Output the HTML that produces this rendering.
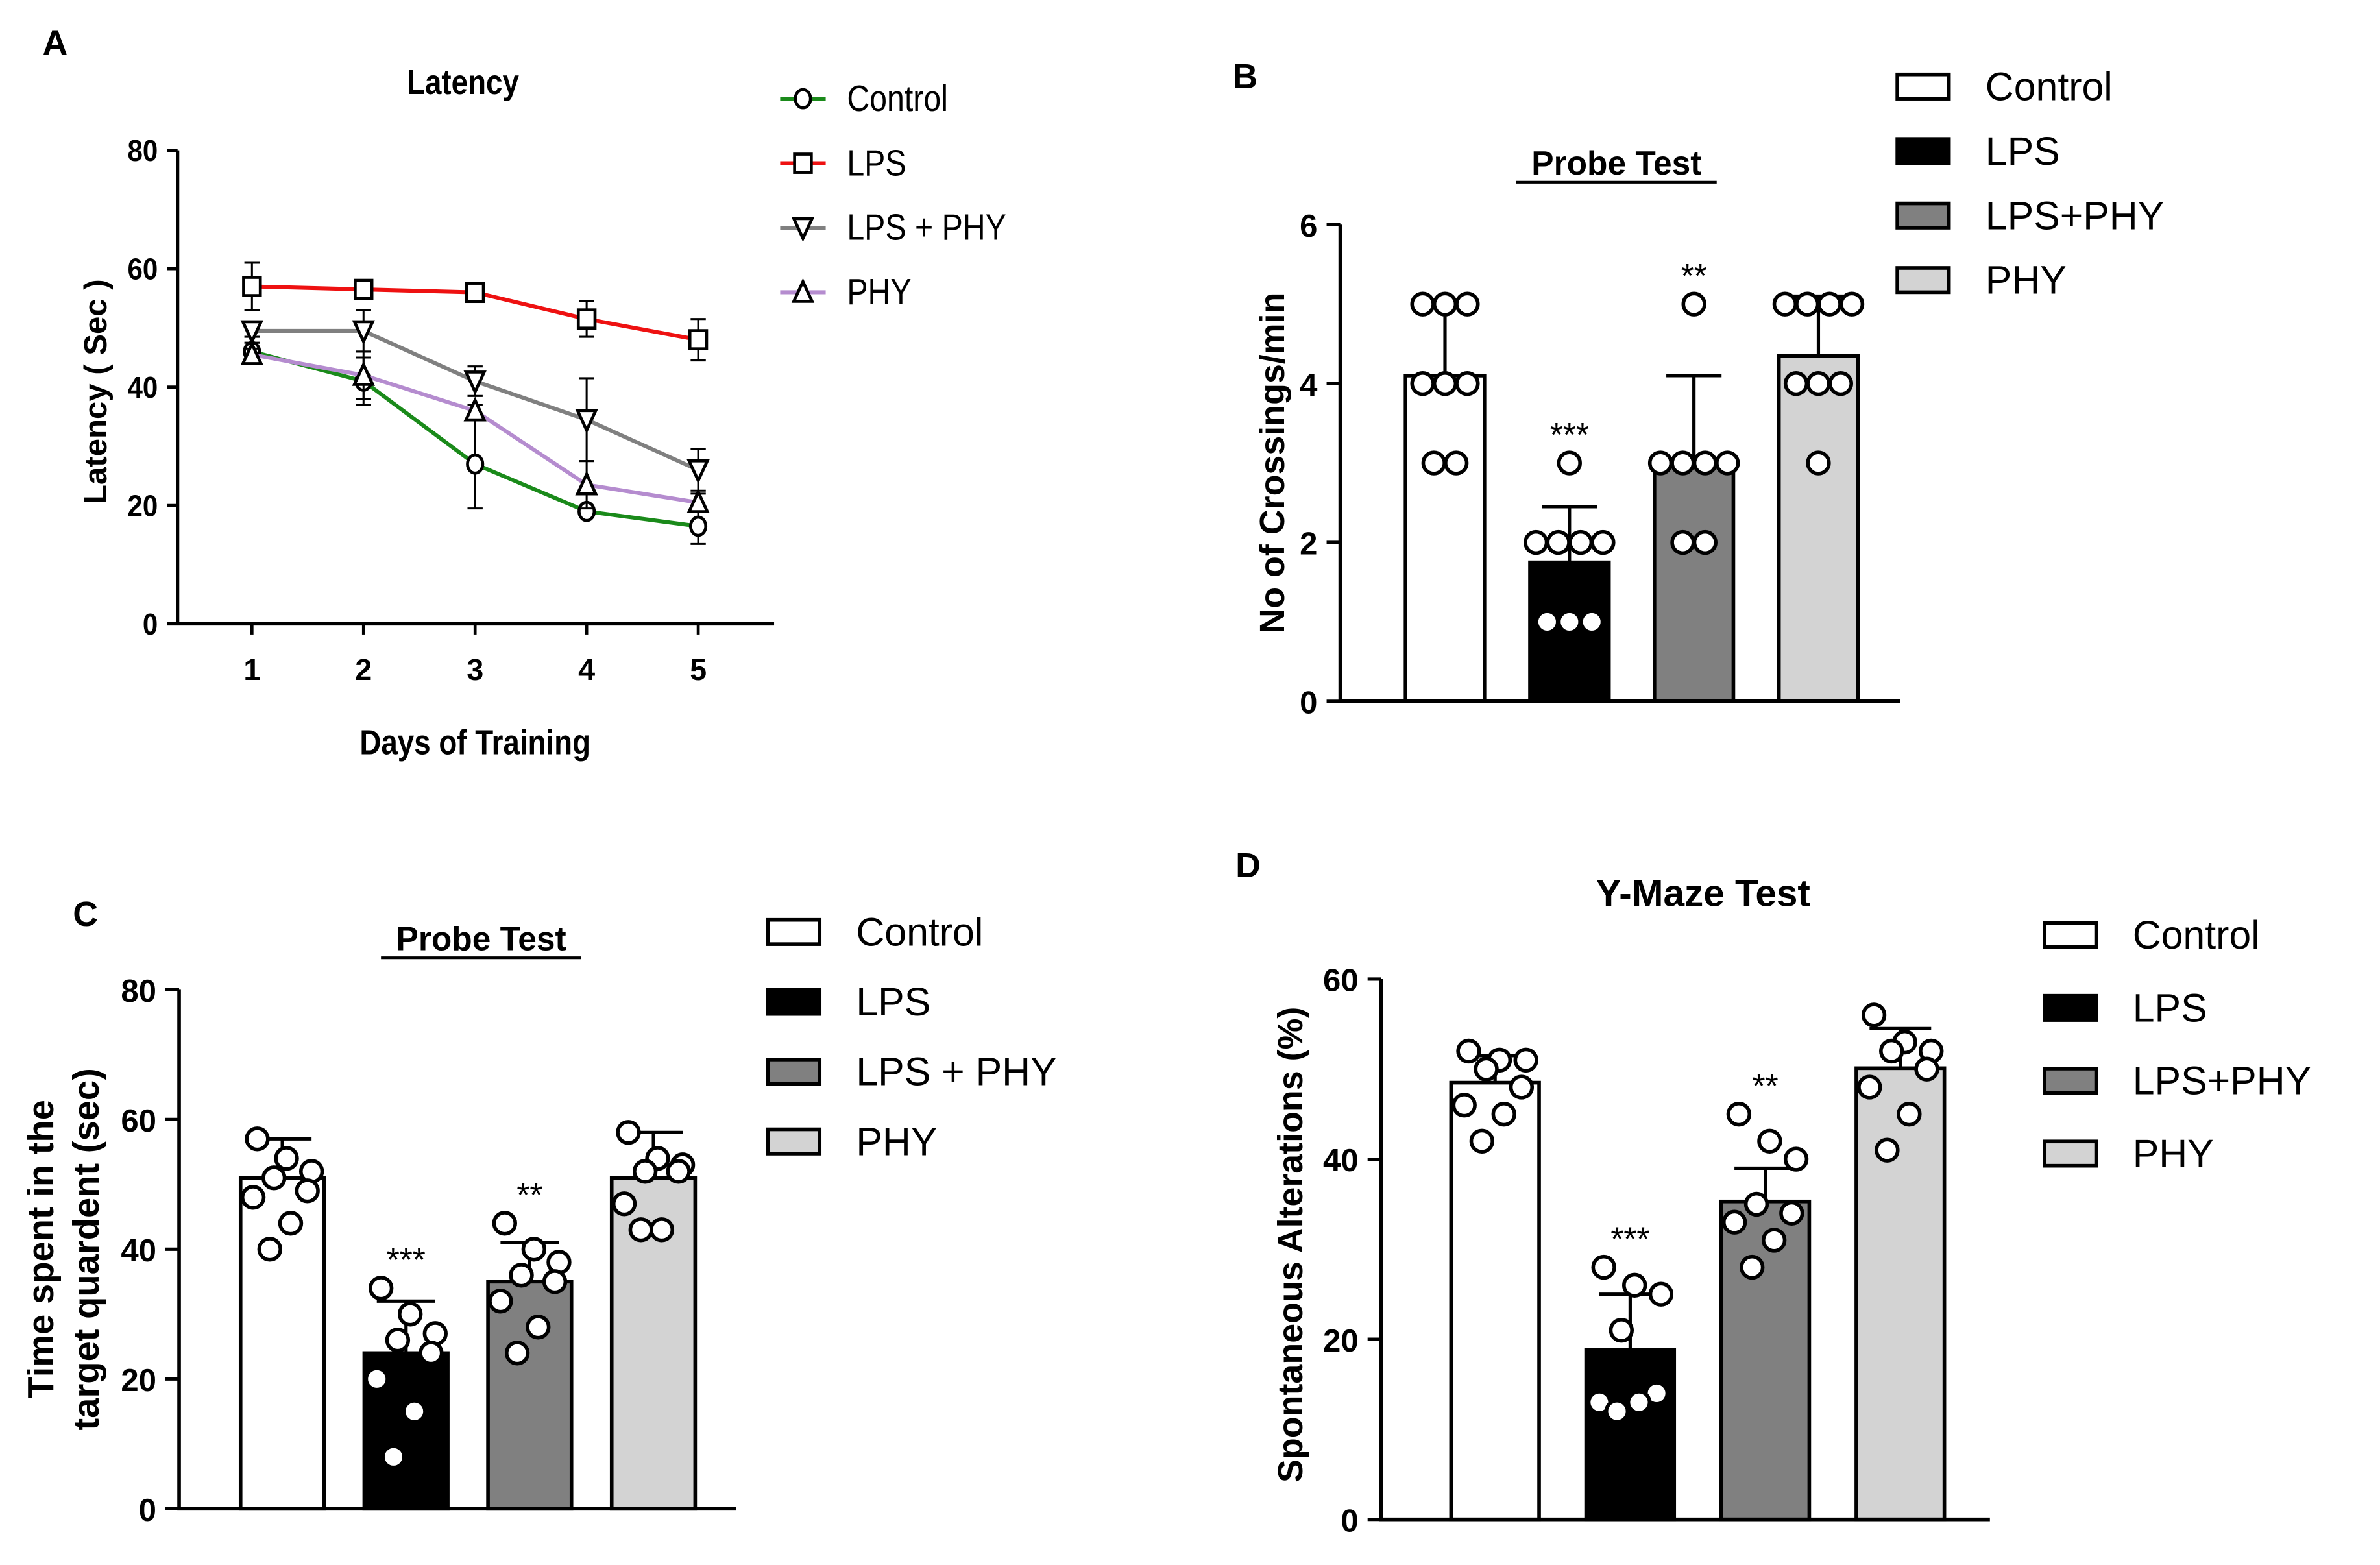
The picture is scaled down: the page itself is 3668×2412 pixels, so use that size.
<!DOCTYPE html>
<html><head><meta charset="utf-8"><style>
html,body{margin:0;padding:0;background:#fff;}
svg{display:block;font-family:"Liberation Sans",Arial,sans-serif;}
</style></head><body>
<svg id="fig" width="3668" height="2412" viewBox="0 0 1568 1031" xmlns="http://www.w3.org/2000/svg">
<g id="gA"></g>
<g id="gB"></g>
<g id="gC"></g>
<g id="gD"></g>
</svg>
<script>
const days=[1,2,3,4,5];
const ctrlLat=[46,41,27,19,16.5], ctrlErr=[1.5,4,7.5,1,3];
const lpsLat=[57,56.5,56,51.5,48], lpsErr=[4,1,1,3,3.5];
const lpsPhyLat=[49.5,49.5,41,34.5,26], lpsPhyErr=[1,3.5,2.5,7,3.5];
const phyLat=[45.5,42,36,23.5,20.5], phyErr=[1,4,1,4,1.5];
const latTicks=[0,20,40,60,80];

const groupsB=["Control","LPS","LPS+PHY","PHY"];
const meansB=[4.1,1.75,3.05,4.35], errB=[0.85,0.7,1.05,0.75];
const ptsB=[[5,5,5,4,4,4,3,3],[3,2,2,2,2,1,1,1],[5,3,3,3,3,2,2],[5,5,5,5,4,4,4,3]];
const ticksB=[0,2,4,6];
const groupsC=["Control","LPS","LPS + PHY","PHY"];
const meansC=[51,24,35,51], errC=[6,8,6,7];
const ptsC=[[57,54,52,51,49,44,40,48],[34,30,27,26,24,20,15,8],[44,40,38,36,35,32,28,24],[58,54,53,52,47,43,43,52]];
const ticksC=[0,20,40,60,80];
const groupsD=["Control","LPS","LPS+PHY","PHY"];
const meansD=[48.5,18.8,35.3,50.1], errD=[3,6.2,3.7,4.4];
const ptsD=[[52,51,51,50,48,46,45,42],[28,26,25,21,14,13,13,12],[45,42,40,35,34,33,31,28],[56,53,52,52,50,48,45,41]];
const ticksD=[0,20,40,60];

const NS="http://www.w3.org/2000/svg";
function mk(p,tag,a,txt){const e=document.createElementNS(NS,tag);for(const k in a)e.setAttribute(k,a[k]);if(txt!==undefined)e.textContent=txt;p.appendChild(e);return e;}

// Panel A
(function(){
const g=document.getElementById('gA');
const x=d=>166+(d-1)*73.5, y=v=>411-v*(312/80);
let t=mk(g,'text',{x:28,y:36,'font-size':23,'font-weight':'bold'},'A');

t=mk(g,'text',{x:305,y:62,'font-size':23,'font-weight':'bold','text-anchor':'middle',transform:'translate(305 0) scale(0.85 1) translate(-305 0)'},'Latency');

let ax=mk(g,'path',{d:`M117 ${y(80)} V411 M110 411 H510`,stroke:'#000','stroke-width':2.2,fill:'none'});

latTicks.forEach(v=>{mk(g,'line',{x1:110,x2:117,y1:y(v),y2:y(v),stroke:'#000','stroke-width':2});
 const l=mk(g,'text',{x:104,y:y(v)+7,'font-size':20,'font-weight':'bold','text-anchor':'end',transform:`translate(104 0) scale(0.9 1) translate(-104 0)`},v);
 });
days.forEach(d=>{mk(g,'line',{x1:x(d),x2:x(d),y1:411,y2:418,stroke:'#000','stroke-width':2});
 const l=mk(g,'text',{x:x(d),y:448,'font-size':20,'font-weight':'bold','text-anchor':'middle'},d);
 });
t=mk(g,'text',{x:313,y:497,'font-size':23,'font-weight':'bold','text-anchor':'middle',transform:'translate(313 0) scale(0.85 1) translate(-313 0)'},'Days of Training');

t=mk(g,'text',{x:0,y:0,'font-size':21,'font-weight':'bold','text-anchor':'middle',transform:'translate(70 258) rotate(-90)'},'Latency ( Sec )');

const series=[[ctrlLat,ctrlErr,'#1a8a1a','circle','Control'],[lpsLat,lpsErr,'#ee1111','square','LPS'],[lpsPhyLat,lpsPhyErr,'#808080','down','LPS + PHY'],[phyLat,phyErr,'#b58ccf','up','PHY']];
function marker(p,kind,cx,cy){
 const s={fill:'#fff',stroke:'#000','stroke-width':2};
 if(kind==='circle')return mk(p,'ellipse',Object.assign({cx,cy,rx:5,ry:6},s));
 if(kind==='square')return mk(p,'rect',Object.assign({x:cx-5.5,y:cy-6,width:11,height:12},s));
 if(kind==='down')return mk(p,'path',Object.assign({d:`M${cx-6} ${cy-6} H${cx+6} L${cx} ${cy+7} Z`},s));
 return mk(p,'path',Object.assign({d:`M${cx-6} ${cy+6} H${cx+6} L${cx} ${cy-7} Z`},s));
}
series.forEach((s,si)=>{
 const sg=mk(g,'g',{});
 
 
 mk(sg,'polyline',{points:days.map((d,i)=>x(d)+','+y(s[0][i])).join(' '),fill:'none',stroke:s[2],'stroke-width':2.6});
 days.forEach((d,i)=>{const v=s[0][i],e=s[1][i];
  mk(sg,'path',{d:`M${x(d)} ${y(v-e)} V${y(v+e)} M${x(d)-5} ${y(v-e)} H${x(d)+5} M${x(d)-5} ${y(v+e)} H${x(d)+5}`,stroke:'#000','stroke-width':1.3,fill:'none'});
  const m=marker(sg,s[3],x(d),y(v));});
 const ly=65+si*42.5;
 const lg=mk(g,'g',{});
 mk(lg,'line',{x1:514,x2:544,y1:ly,y2:ly,stroke:s[2],'stroke-width':2.6});
 marker(lg,s[3],529,ly);
 mk(lg,'text',{x:558,y:ly+8,'font-size':24,transform:`translate(558 0) scale(0.86 1) translate(-558 0)`},s[4]);
});
})();

const jit=[-0.3,0.05,0.35,-0.1,0.3,-0.35,0.1,-0.15];
function barPanel(gid,o){
 const g=document.getElementById(gid);
 const y=v=>o.y0-v*(o.y0-o.yTop)/o.ticks[o.ticks.length-1];
 let t=mk(g,'text',{x:o.lx,y:o.ly,'font-size':23,'font-weight':'bold'},o.letter);
 
 t=mk(g,'text',{x:o.tx,y:o.ty,'font-size':o.tfs,'font-weight':'bold','text-anchor':'middle'},o.title);
 
 if(o.underline){const w=o.title.length*o.tfs*0.6;mk(g,'line',{x1:o.tx-w/2,x2:o.tx+w/2,y1:o.ty+5,y2:o.ty+5,stroke:'#000','stroke-width':1.8});}
 const fills=['#fff','#000','#808080','#d3d3d3'];
 const sp=o.r*2.1;
 o.means.forEach((m,i)=>{
  const cx=o.bx0+i*o.bdx, bw=o.bw;
  const bg=mk(g,'g',{});
  const top=m+o.err[i];
  mk(bg,'path',{d:`M${cx} ${y(m)} V${y(top)} M${cx-bw*0.35} ${y(top)} H${cx+bw*0.35}`,stroke:'#000','stroke-width':2.2});
  mk(bg,'rect',{x:cx-bw/2,y:y(m),width:bw,height:o.y0-y(m),fill:fills[i],stroke:'#000','stroke-width':2.4});
  const pts=o.pts[i].slice().sort((a,b)=>b-a);
  let maxPt=-Infinity;
  if(o.rows){
   const rows=[];
   pts.forEach(v=>{const r=rows.find(rw=>Math.abs(y(rw[0])-y(v))<o.r*1.6);if(r)r.push(v);else rows.push([v]);});
   rows.forEach(rw=>{rw.forEach((v,j)=>{const px=cx+(j-(rw.length-1)/2)*sp;maxPt=Math.max(maxPt,v);
    const c=mk(bg,'circle',{cx:px,cy:y(v),r:o.r,fill:'#fff',stroke:'#000','stroke-width':2.4});
    });});
  } else {
   pts.forEach((v,j)=>{maxPt=Math.max(maxPt,v);
    const c=mk(bg,'circle',{cx:cx+jit[j%8]*bw,cy:y(v),r:o.r,fill:'#fff',stroke:'#000','stroke-width':2.4});
    });
  }
  if(o.stars[i]){const sy=Math.min(y(top),y(maxPt)-o.r)-10;
   const s=mk(bg,'text',{x:cx,y:sy+6,'font-size':22,'text-anchor':'middle'},o.stars[i]);}
 });
 const ax=mk(g,'path',{d:`M${o.ax} ${o.yTop} V${o.y0} H${o.axEnd}`,stroke:'#000','stroke-width':2.4,fill:'none'});
 
 o.ticks.forEach(v=>{mk(g,'line',{x1:o.ax-9,x2:o.ax,y1:y(v),y2:y(v),stroke:'#000','stroke-width':2.2});
  const l=mk(g,'text',{x:o.ax-15,y:y(v)+8,'font-size':21,'font-weight':'bold','text-anchor':'end'},v);
  });
 o.ytitle.forEach((s,k)=>{const l=mk(g,'text',{x:0,y:0,'font-size':o.yfs,'font-weight':'bold','text-anchor':'middle',transform:`translate(${o.ytx+k*30} ${o.yty}) rotate(-90)`},s);
  });
 o.groups.forEach((s,i)=>{const ly=o.legY+i*o.legDy;
  const lg=mk(g,'g',{});
  mk(lg,'rect',{x:o.legX,y:ly-8,width:34,height:16,fill:fills[i],stroke:'#000','stroke-width':2.4});
  mk(lg,'text',{x:o.legX+58,y:ly+9,'font-size':26},s);});
}
barPanel('gB',{letter:'B',lx:812,ly:58,title:'Probe Test',tx:1065,ty:115,tfs:22,underline:true,rows:true,
 groups:groupsB,means:meansB,err:errB,pts:ptsB,ticks:ticksB,stars:['','***','**',''],
 y0:462,yTop:148,ax:883,axEnd:1252,bx0:952,bdx:82,bw:52,r:7,ytitle:['No of Crossings/min'],ytx:846,yty:305,yfs:23,
 legX:1250,legY:57,legDy:42.5});
barPanel('gC',{letter:'C',lx:48,ly:610,title:'Probe Test',tx:317,ty:626,tfs:22,underline:true,rows:false,
 groups:groupsC,means:meansC,err:errC,pts:ptsC,ticks:ticksC,stars:['','***','**',''],
 y0:994,yTop:652,ax:118,axEnd:485,bx0:186,bdx:81.5,bw:55,r:7,ytitle:['Time spent in the','target quardent (sec)'],ytx:35,yty:823,yfs:24,
 legX:506,legY:614,legDy:46});
barPanel('gD',{letter:'D',lx:814,ly:578,title:'Y-Maze Test',tx:1122,ty:597,tfs:25,underline:false,rows:false,
 groups:groupsD,means:meansD,err:errD,pts:ptsD,ticks:ticksD,stars:['','***','**',''],
 y0:1001,yTop:645,ax:910,axEnd:1311,bx0:985,bdx:89,bw:58,r:7,ytitle:['Spontaneous Alterations  (%)'],ytx:858,yty:820,yfs:23,
 legX:1347,legY:616,legDy:48});
</script>
</body></html>
